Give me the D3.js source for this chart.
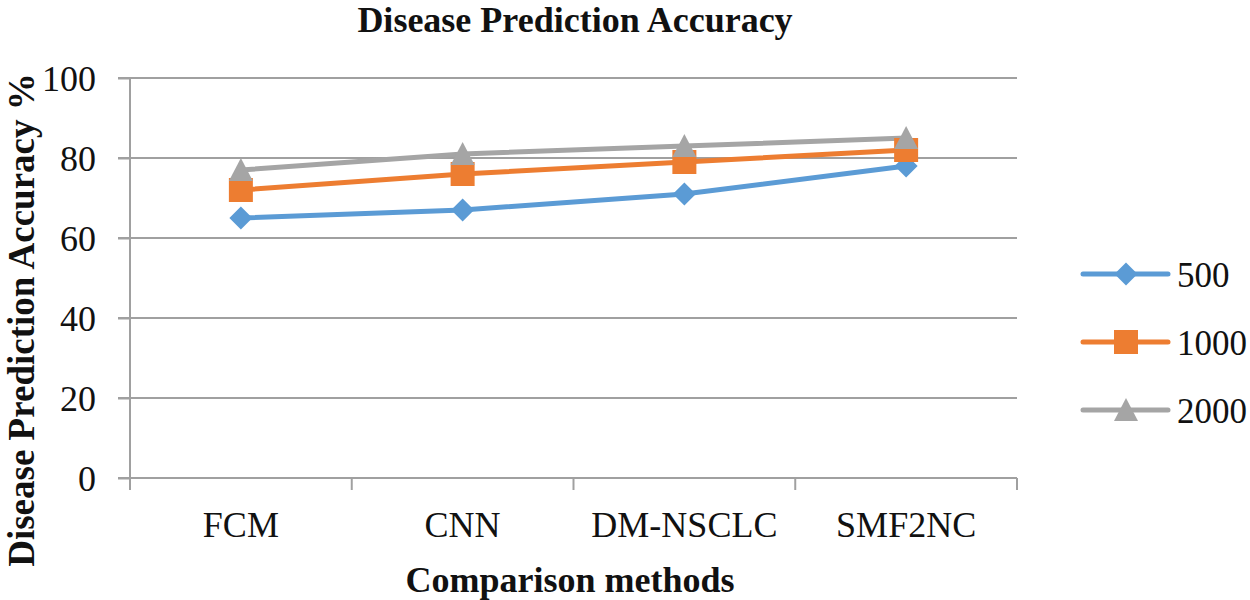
<!DOCTYPE html>
<html>
<head>
  <meta charset="utf-8">
  <title>Disease Prediction Accuracy</title>
  <script src="https://d3js.org/d3.v7.min.js"></script>
  <style>
    body { margin: 0; background: #fff; }
    text { font-family: "Liberation Serif", "Times New Roman", serif; fill: #111; }
    .grid line { stroke: #a0a0a0; stroke-width: 2px; }
    .axis path, .axis line { stroke: #a0a0a0; stroke-width: 2px; }
    .axis text { font-size: 36px; font-family: "Liberation Serif", serif; fill: #111; }
  </style>
</head>
<body>
  <svg width="1250" height="600"></svg>
  <script>
    const categories = ["FCM", "CNN", "DM-NSCLC", "SMF2NC"]
    const seriesNames = ["500", "1000", "2000"]
    const values500 = [65, 67, 71, 78]
    const values1000 = [72, 76, 79, 82]
    const values2000 = [77, 81, 83, 85]
    const yTicks = [0, 20, 40, 60, 80, 100]

    const series = [
      { name: seriesNames[0], values: values500, color: "#5b9bd5", shape: "diamond" },
      { name: seriesNames[1], values: values1000, color: "#ed7d31", shape: "square" },
      { name: seriesNames[2], values: values2000, color: "#a5a5a5", shape: "triangle" }
    ]

    // marker paths, all about 23px across
    function markerPath(shape) {
      if (shape === "triangle") return "M0,-12L12,11L-12,11Z"
      if (shape === "diamond") return "M0,-11.5L11.5,0L0,11.5L-11.5,0Z"
      return "M-12,-12H12V12H-12Z"
    }

    const svg = d3.select("svg")
    const mLeft = 130, mRight = 1017, mTop = 78, mBottom = 478

    const x = d3.scaleBand().domain(categories).range([mLeft, mRight])
    const y = d3.scaleLinear().domain([0, 100]).range([mBottom, mTop])
    const cx = c => x(c) + x.bandwidth() / 2

    // gridlines
    svg.append("g")
      .attr("class", "grid")
      .selectAll("line")
      .data(yTicks.filter(d => d > 0))
      .enter().append("line")
      .attr("x1", mLeft - 12).attr("x2", mRight)
      .attr("y1", d => y(d)).attr("y2", d => y(d))

    // y axis
    const yAxis = svg.append("g")
      .attr("class", "axis")
      .attr("transform", `translate(${mLeft},0)`)
      .call(d3.axisLeft(y).tickValues(yTicks).tickSize(12).tickPadding(22))
    yAxis.select(".domain").attr("d", `M-12,${mBottom}H0V${mTop}`)
    yAxis.selectAll(".tick text").attr("dy", "0.34em")

    // x axis, ticks on band edges
    const xAxis = svg.append("g")
      .attr("class", "axis")
      .attr("transform", `translate(0,${mBottom})`)
    xAxis.append("line")
      .attr("x1", mLeft - 12).attr("x2", mRight)
    xAxis.selectAll(".tk")
      .data(categories.map(c => x(c)).concat([mRight]))
      .enter().append("line")
      .attr("class", "tk")
      .attr("x1", d => d).attr("x2", d => d)
      .attr("y1", 0).attr("y2", 12)
    xAxis.selectAll("text")
      .data(categories)
      .enter().append("text")
      .attr("x", d => cx(d))
      .attr("y", 59)
      .attr("text-anchor", "middle")
      .text(d => d)

    // lines
    const line = d3.line()
      .x((d, i) => cx(categories[i]))
      .y(d => y(d))

    series.forEach(s => {
      svg.append("path")
        .datum(s.values)
        .attr("fill", "none")
        .attr("stroke", s.color)
        .attr("stroke-width", 5)
        .attr("stroke-linecap", "round")
        .attr("d", line)
    })

    series.forEach(s => {
      svg.append("g")
        .selectAll("path")
        .data(s.values)
        .enter().append("path")
        .attr("transform", (d, i) => `translate(${cx(categories[i])},${y(d)})`)
        .attr("fill", s.color)
        .attr("d", markerPath(s.shape))
    })

    // legend
    const legend = svg.append("g")
      .selectAll("g")
      .data(series)
      .enter().append("g")
      .attr("transform", (d, i) => `translate(1083,${274 + i * 68})`)
    legend.append("line")
      .attr("x1", 0).attr("x2", 85)
      .attr("stroke", d => d.color)
      .attr("stroke-width", 5)
      .attr("stroke-linecap", "round")
    legend.append("path")
      .attr("transform", "translate(43,0)")
      .attr("fill", d => d.color)
      .attr("d", d => markerPath(d.shape))
    legend.append("text")
      .attr("x", 94).attr("y", 13)
      .attr("font-size", 35)
      .text(d => d.name)

    // titles
    svg.append("text")
      .attr("x", 575).attr("y", 32)
      .attr("text-anchor", "middle")
      .attr("font-size", 36)
      .attr("font-weight", "bold")
      .text("Disease Prediction Accuracy")

    svg.append("text")
      .attr("x", 570).attr("y", 592)
      .attr("text-anchor", "middle")
      .attr("font-size", 36)
      .attr("font-weight", "bold")
      .text("Comparison methods")

    svg.append("text")
      .attr("transform", "translate(34,320) rotate(-90)")
      .attr("text-anchor", "middle")
      .attr("font-size", 37)
      .attr("font-weight", "bold")
      .text("Disease Prediction Accuracy %")
  </script>
</body>
</html>
